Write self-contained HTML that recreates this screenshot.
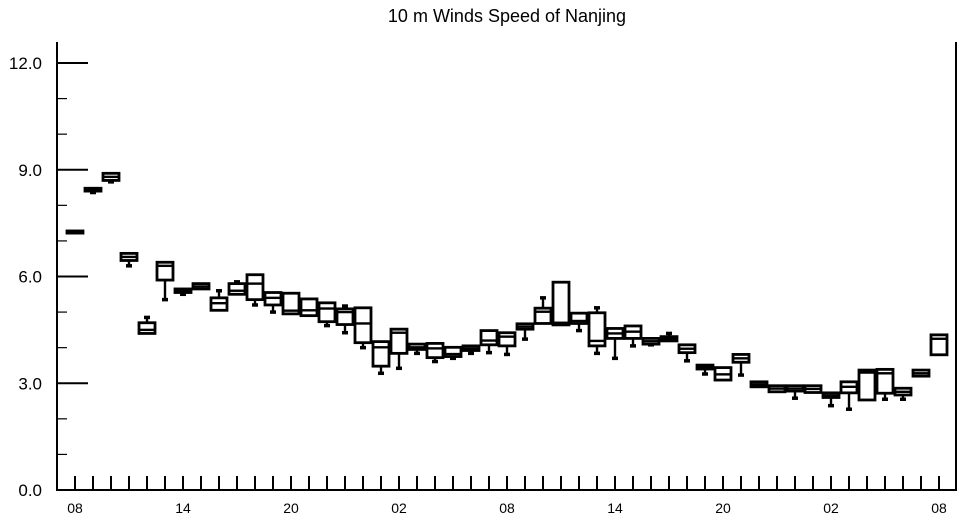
<!DOCTYPE html>
<html><head><meta charset="utf-8"><style>
body{margin:0;background:#fff;}
svg{display:block;font-family:"Liberation Sans",Arial,sans-serif;}
</style></head><body>
<svg id="chart" width="962" height="520" viewBox="0 0 962 520" xmlns="http://www.w3.org/2000/svg">
<text x="507" y="22" font-size="18" text-anchor="middle">10 m Winds Speed of Nanjing</text>
<g id="axes"></g>
<g id="boxes"></g>
</svg>
<script>
const hours = ["08","09","10","11","12","13","14","15","16","17","18","19","20","21","22","23","00","01","02","03","04","05","06","07","08","09","10","11","12","13","14","15","16","17","18","19","20","21","22","23","00","01","02","03","04","05","06","07","08"];
const q1  = [7.22,8.40,8.70,6.45,4.40,5.90,5.55,5.65,5.05,5.50,5.35,5.20,4.95,4.90,4.73,4.65,4.14,3.48,3.84,3.95,3.72,3.75,3.92,4.08,4.05,4.52,4.68,4.64,4.68,4.05,4.26,4.26,4.10,4.19,3.86,3.40,3.09,3.59,2.90,2.76,2.78,2.74,2.60,2.73,2.53,2.72,2.67,3.20,3.80];
const med = [7.25,8.44,8.80,6.55,4.50,6.30,5.60,5.72,5.25,5.60,5.80,5.40,5.04,5.05,5.10,5.00,4.68,4.01,4.42,4.01,3.98,3.82,3.98,4.20,4.31,4.59,5.01,4.70,4.75,4.19,4.40,4.45,4.18,4.25,3.97,3.45,3.25,3.70,2.97,2.85,2.85,2.84,2.66,2.90,3.30,3.28,2.76,3.28,4.25];
const q3  = [7.28,8.48,8.90,6.65,4.70,6.40,5.65,5.80,5.40,5.80,6.05,5.55,5.53,5.37,5.26,5.09,5.12,4.17,4.52,4.10,4.12,4.01,4.05,4.48,4.42,4.67,5.11,5.84,4.97,4.98,4.54,4.61,4.26,4.31,4.08,3.51,3.44,3.81,3.04,2.93,2.93,2.93,2.73,3.04,3.37,3.39,2.86,3.37,4.36];
const lo  = [7.22,8.36,8.66,6.30,4.40,5.35,5.50,5.65,5.05,5.50,5.20,5.00,4.95,4.90,4.62,4.42,4.00,3.28,3.42,3.84,3.61,3.70,3.84,3.86,3.81,4.24,4.68,4.64,4.48,3.84,3.70,4.05,4.08,4.19,3.63,3.26,3.09,3.23,2.90,2.76,2.58,2.74,2.37,2.27,2.53,2.55,2.55,3.20,3.80];
const hi  = [7.28,8.48,8.90,6.65,4.85,6.40,5.65,5.80,5.60,5.85,6.05,5.55,5.53,5.37,5.26,5.17,5.12,4.17,4.52,4.10,4.12,4.01,4.05,4.48,4.42,4.67,5.40,5.84,4.97,5.12,4.54,4.61,4.26,4.40,4.08,3.51,3.44,3.81,3.04,2.93,2.93,2.93,2.73,3.04,3.37,3.39,2.86,3.37,4.36];
const yTicks = [0,3,6,9,12];
const yTickLabels = ["0.0","3.0","6.0","9.0","12.0"];

const NS="http://www.w3.org/2000/svg";
const L=57,R=956,T=42,B=490;
const y=v=>B-v*(B-63)/12;
const x=i=>75+i*18;
function mk(tag,attrs,parent){const e=document.createElementNS(NS,tag);for(const k in attrs)e.setAttribute(k,attrs[k]);parent.appendChild(e);return e;}
const ax=document.getElementById('axes');
let e;
e=mk('path',{d:`M${L},${T}V${B}H${R}V${T}`,fill:'none',stroke:'#000','stroke-width':2},ax);


for(let v=0;v<=12;v++){
  const major=yTicks.indexOf(v)>=0;
  e=mk('line',{x1:L,x2:L+(major?31:10),y1:y(v),y2:y(v),stroke:'#000','stroke-width':major?2:1.2},ax);
  
  
}
yTicks.forEach((v,i)=>{
  e=mk('text',{x:42,y:y(v)+6,'font-size':17,'text-anchor':'end'},ax);
  e.textContent=yTickLabels[i];
  
  
});
hours.forEach((h,i)=>{
  e=mk('line',{x1:x(i),x2:x(i),y1:B,y2:B-14,stroke:'#000','stroke-width':2},ax);
  
  
  if(i%6===0){
    e=mk('text',{x:x(i),y:513,'font-size':14,'text-anchor':'middle'},ax);
    e.textContent=h;
    
    
  }
});
const bx=document.getElementById('boxes');
hours.forEach((h,i)=>{
  const g=mk('g',{},bx);
  
  
  const cx=x(i),w=16;
  if(lo[i]<q1[i]-0.01){
    mk('line',{x1:cx,x2:cx,y1:y(q1[i]),y2:y(lo[i]),stroke:'#000','stroke-width':2.4},g);
    mk('line',{x1:cx-3,x2:cx+3,y1:y(lo[i]),y2:y(lo[i]),stroke:'#000','stroke-width':3.5},g);
  }
  if(hi[i]>q3[i]+0.01){
    mk('line',{x1:cx,x2:cx,y1:y(q3[i]),y2:y(hi[i]),stroke:'#000','stroke-width':2.4},g);
    mk('line',{x1:cx-3,x2:cx+3,y1:y(hi[i]),y2:y(hi[i]),stroke:'#000','stroke-width':3.5},g);
  }
  const top=y(q3[i]),bot=y(q1[i]);
  mk('rect',{x:cx-w/2,y:top,width:w,height:Math.max(bot-top,2),fill:'#fff',stroke:'#000','stroke-width':2.8},g);
  mk('line',{x1:cx-w/2,x2:cx+w/2,y1:y(med[i]),y2:y(med[i]),stroke:'#000','stroke-width':2.4},g);
});
</script>
</body></html>
